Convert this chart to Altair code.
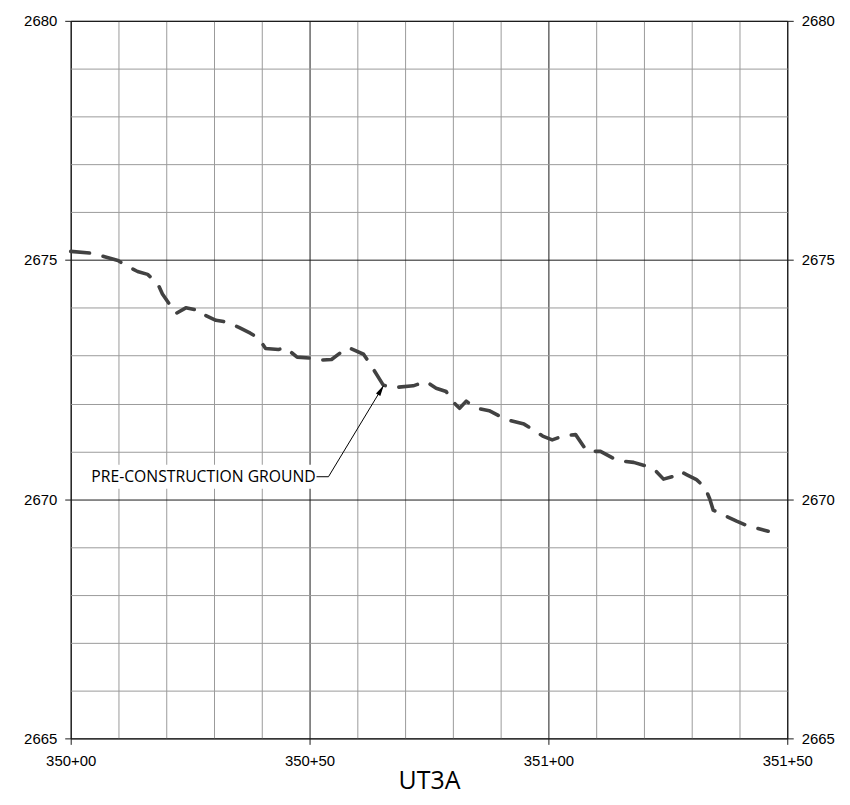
import altair as alt
import pandas as pd

# ---- data ----
BASE_STATION = 35000
station_offset = [0, 4.6, 7.1, 9.9, 11.6, 14.0, 16.1, 18.2, 19.2, 22.0, 24.1, 27.6, 28.3,
                  30.4, 32.8, 35.2, 37.6, 39.4, 40.8, 43.5, 44.9, 47.4, 50.1, 52.6, 54.6,
                  56.7, 58.1, 61.3, 62.6, 65.4, 67.2, 71.7, 74.4, 76.5, 78.6, 80.0, 81.4,
                  82.8, 83.5, 85.6, 87.6, 89.7, 92.1, 94.9, 96.7, 98.8, 100.8, 103.3, 105.7,
                  108.1, 110.9, 114.4, 117.85, 120.6, 122.4, 124.1, 126.2, 127.6, 129.0,
                  131.0, 132.8, 133.8, 134.5, 139.4, 141.5, 146.0]
elevation = [2675.18, 2675.14, 2675.07, 2674.99, 2674.88, 2674.76, 2674.70, 2674.51, 2674.29,
             2673.88, 2674.00, 2673.93, 2673.84, 2673.74, 2673.70, 2673.59, 2673.47, 2673.36,
             2673.15, 2673.13, 2673.17, 2672.97, 2672.95, 2672.91, 2672.92, 2673.08, 2673.17,
             2673.03, 2672.84, 2672.39, 2672.33, 2672.37, 2672.46, 2672.32, 2672.25, 2672.04,
             2671.90, 2672.05, 2672.00, 2671.89, 2671.85, 2671.74, 2671.64, 2671.57, 2671.46,
             2671.32, 2671.24, 2671.33, 2671.35, 2671.00, 2671.00, 2670.81, 2670.77, 2670.69,
             2670.60, 2670.42, 2670.48, 2670.58, 2670.51, 2670.41, 2670.24, 2670.00, 2669.77,
             2669.54, 2669.45, 2669.33]

x_ticks = list(range(35000, 35151, 10))
y_ticks = list(range(2665, 2681))
y_major = [2665, 2670, 2675, 2680]
x_domain = [35000, 35150]
y_domain = [2665, 2680]

label_text = "PRE-CONSTRUCTION GROUND"
title_text = "UT3A"

# annotation placement (data coordinates)
label_pos = {"x": 35004.3, "y": 2670.47}
label_box = {"x0": 35001.5, "x1": 35054.0, "y0": 2670.22, "y1": 2670.72}
leader_x = [35051.46, 35053.96, 35065.4]
leader_y = [2670.47, 2670.47, 2672.36]
arrow_head = {"x": 35064.81, "y": 2672.26}

# ---- tables ----
profile = pd.DataFrame({"sta": [BASE_STATION + s for s in station_offset], "elev": elevation})
leader = pd.DataFrame({"x": leader_x, "y": leader_y, "i": list(range(len(leader_x)))})
arrow = pd.DataFrame([arrow_head])
box = pd.DataFrame([label_box])
label = pd.DataFrame([{**label_pos, "t": label_text}])

xscale = alt.Scale(domain=x_domain, nice=False, zero=False)
yscale = alt.Scale(domain=y_domain, nice=False, zero=False)

MAJOR_COLOR = "#1a1a1a"
MINOR_COLOR = "#9a9a9a"

x_axis = alt.Axis(
    values=x_ticks, grid=True, domain=False, orient="bottom",
    gridColor={"condition": {"test": "datum.value % 50 === 0", "value": MAJOR_COLOR}, "value": MINOR_COLOR},
    gridWidth=1,
    tickOpacity={"condition": {"test": "datum.value % 50 === 0", "value": 1}, "value": 0},
    tickColor=MAJOR_COLOR, tickSize=6, tickWidth=1,
    labelExpr="datum.value % 50 === 0 ? floor(datum.value/100) + '+' + (datum.value % 100 < 10 ? '0' : '') + (datum.value % 100) : ''",
    labelFont="Liberation Sans", labelFontSize=15, labelColor="black", labelPadding=9,
    labelAngle=0, labelFlush=False, labelOverlap=False, labelBound=False,
    title=title_text, titleFont="Open Sans", titleFontSize=25, titleFontWeight="normal",
    titleColor="black", titleY=50, titleBaseline="alphabetic",
)

y_left = alt.Axis(
    values=y_ticks, grid=True, domain=False, orient="left",
    gridColor={"condition": {"test": "datum.value % 5 === 0", "value": MAJOR_COLOR}, "value": MINOR_COLOR},
    gridWidth=1,
    tickOpacity={"condition": {"test": "datum.value % 5 === 0", "value": 1}, "value": 0},
    tickColor=MAJOR_COLOR, tickSize=6, tickWidth=1,
    labelExpr="datum.value % 5 === 0 ? '' + datum.value : ''",
    labelFont="Liberation Sans", labelFontSize=15, labelColor="black", labelPadding=8,
    labelOverlap=False, labelFlush=False, labelBound=False,
    title=None,
)

y_right = alt.Axis(
    values=y_major, grid=False, domain=False, orient="right", format="d",
    tickColor=MAJOR_COLOR, tickSize=6, tickWidth=1,
    labelFont="Liberation Sans", labelFontSize=15, labelColor="black", labelPadding=8,
    labelOverlap=False, labelFlush=False, labelBound=False,
    title=None,
)

box_layer = alt.Chart(box).mark_rect(color="white").encode(
    x=alt.X("x0:Q", scale=xscale, axis=None), x2="x1:Q",
    y=alt.Y("y0:Q", scale=yscale, axis=None), y2="y1:Q",
)

line_layer = alt.Chart(profile).mark_line(
    color="#424242", strokeWidth=3.6, strokeDash=[19, 14], strokeCap="round", strokeJoin="round"
).encode(
    x=alt.X("sta:Q", scale=xscale, axis=x_axis),
    y=alt.Y("elev:Q", scale=yscale, axis=y_left),
)

leader_layer = alt.Chart(leader).mark_line(color="black", strokeWidth=1).encode(
    x=alt.X("x:Q", scale=xscale, axis=None),
    y=alt.Y("y:Q", scale=yscale, axis=None),
    order="i:Q",
)

arrow_layer = alt.Chart(arrow).mark_point(
    shape="M0,-1L0.36,0.6L-0.36,0.6Z", filled=True, size=196, angle=31, color="black", opacity=1
).encode(
    x=alt.X("x:Q", scale=xscale, axis=None),
    y=alt.Y("y:Q", scale=yscale, axis=None),
)

text_layer = alt.Chart(label).mark_text(
    align="left", baseline="middle", font="Open Sans", fontSize=15.8, color="black"
).encode(
    x=alt.X("x:Q", scale=xscale, axis=None),
    y=alt.Y("y:Q", scale=yscale, axis=y_right),
    text="t:N",
)

chart = alt.layer(
    line_layer, box_layer, leader_layer, arrow_layer, text_layer
).resolve_axis(x="independent", y="independent").properties(
    width=720, height=721,
    autosize="none",
    padding={"left": 63, "top": 11, "right": 55, "bottom": 57},
).configure_view(stroke="black", strokeWidth=1)

chart.save("out.html", embed_options={"renderer": "svg", "actions": False})
